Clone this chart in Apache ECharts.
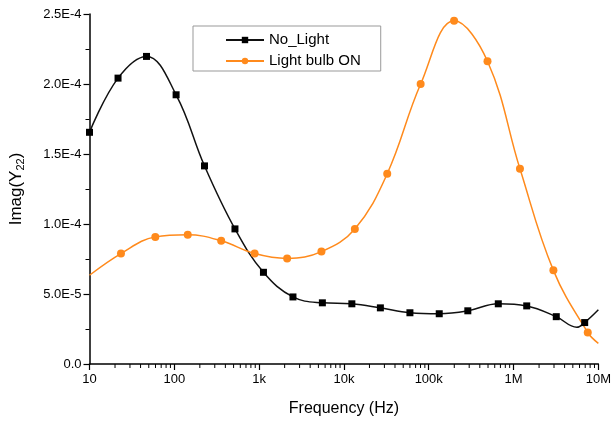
<!DOCTYPE html>
<html>
<head>
<meta charset="utf-8">
<script src="https://cdn.jsdelivr.net/npm/echarts@6/dist/echarts.min.js"></script>
<style>
  html, body { margin: 0; padding: 0; background: #fff; }
  #main { width: 614px; height: 422px; }
</style>
</head>
<body>
<div id="main"></div>
<script>
// frequency (Hz) and Imag(Y22)
var freqDark = [10, 21.7, 47, 105, 227, 519, 1125, 2506, 5570, 12400, 26900, 60000, 133000, 289000, 661000, 1430000, 3190000, 5580000, 6900000, 10000000];
var yDark = [1.655e-4, 2.042e-4, 2.197e-4, 1.923e-4, 1.415e-4, 0.965e-4, 0.655e-4, 0.479e-4, 0.437e-4, 0.43e-4, 0.401e-4, 0.366e-4, 0.359e-4, 0.38e-4, 0.43e-4, 0.415e-4, 0.338e-4, 0.262e-4, 0.296e-4, 0.387e-4];
var noMarkDark = [17, 19];

var freqLight = [10, 23.5, 59.7, 144, 357, 885, 2140, 5430, 13450, 32400, 80300, 199000, 493000, 1190000, 2950000, 7500000, 10000000];
var yLight = [0.634e-4, 0.789e-4, 0.908e-4, 0.923e-4, 0.88e-4, 0.789e-4, 0.754e-4, 0.803e-4, 0.965e-4, 1.359e-4, 2.0e-4, 2.451e-4, 2.162e-4, 1.394e-4, 0.669e-4, 0.225e-4, 0.148e-4];
var noMarkLight = [0, 16];

var xTickLabels = ['10', '100', '1k', '10k', '100k', '1M', '10M'];
var xMinorTicks = [];
for (var d = 10; d < 1e7; d *= 10) {
    for (var m = 2; m <= 9; m++) xMinorTicks.push([d * m, 0]);
}

function toPoints(xs, ys, skip) {
    return xs.map(function (x, i) {
        var item = { value: [x, ys[i]] };
        if (skip.indexOf(i) >= 0) item.symbol = 'none';
        return item;
    });
}

var chart = echarts.init(document.getElementById('main'));
var font = 'Liberation Sans, Arial, sans-serif';
var option = {
    animation: false,
    grid: { left: 87, top: 14, right: 9, bottom: 53 },
    legend: {
        left: 193,
        top: 26,
        orient: 'vertical',
        data: ['No_Light', 'Light bulb ON'],
        borderColor: '#999',
        borderWidth: 1,
        padding: [6, 20, 2, 32],
        itemWidth: 38,
        itemHeight: 8,
        itemGap: 5,
        textStyle: { fontFamily: font, fontSize: 15, color: '#000', lineHeight: 16 }
    },
    xAxis: {
        type: 'log',
        logBase: 10,
        min: 10,
        max: 1e7,
        name: 'Frequency (Hz)',
        nameLocation: 'middle',
        nameGap: 37,
        nameTextStyle: { fontFamily: font, fontSize: 16, color: '#000' },
        axisLine: { lineStyle: { color: '#000', width: 1.5 } },
        axisTick: { length: 6, lineStyle: { color: '#000', width: 1.2 } },
        splitLine: { show: false },
        axisLabel: {
            fontFamily: font, fontSize: 13, color: '#000', margin: 9,
            formatter: function (v) {
                return xTickLabels[Math.round(Math.log10(v)) - 1];
            }
        }
    },
    yAxis: {
        type: 'value',
        min: 0,
        max: 2.5e-4,
        interval: 0.5e-4,
        name: '{n|Imag(Y}{s|22}{n|)}',
        nameLocation: 'middle',
        nameGap: 63,
        nameTextStyle: {
            rich: {
                n: { fontFamily: font, fontSize: 17, color: '#000', lineHeight: 20 },
                s: { fontFamily: font, fontSize: 11, color: '#000', lineHeight: 20, verticalAlign: 'bottom' }
            }
        },
        axisLine: { show: true, lineStyle: { color: '#000', width: 1.5 } },
        axisTick: { show: true, length: 6, lineStyle: { color: '#000', width: 1.2 } },
        minorTick: { show: true, splitNumber: 2, length: 4, lineStyle: { color: '#000', width: 1 } },
        splitLine: { show: false },
        axisLabel: {
            fontFamily: font, fontSize: 13, color: '#000', margin: 8,
            formatter: function (v) {
                if (v === 0) return '0.0';
                return v.toExponential(1).toUpperCase();
            }
        }
    },
    series: [
        {
            name: 'No_Light',
            type: 'line',
            smooth: 0.4,
            symbol: 'rect',
            symbolSize: 7,
            lineStyle: { color: '#111', width: 1.5 },
            itemStyle: { color: '#000' },
            data: toPoints(freqDark, yDark, noMarkDark)
        },
        {
            name: 'Light bulb ON',
            type: 'line',
            smooth: 0.4,
            symbol: 'circle',
            symbolSize: 8,
            lineStyle: { color: '#ff8a1c', width: 1.5 },
            itemStyle: { color: '#ff8a1c' },
            data: toPoints(freqLight, yLight, noMarkLight)
        },
        {
            type: 'custom',
            silent: true,
            data: xMinorTicks,
            renderItem: function (params, api) {
                var p = api.coord([api.value(0), api.value(1)]);
                return {
                    type: 'line',
                    shape: { x1: p[0], y1: p[1], x2: p[0], y2: p[1] + 4 },
                    style: { stroke: '#000', lineWidth: 1 }
                };
            }
        }
    ]
};
chart.setOption(option);
</script>
</body>
</html>
